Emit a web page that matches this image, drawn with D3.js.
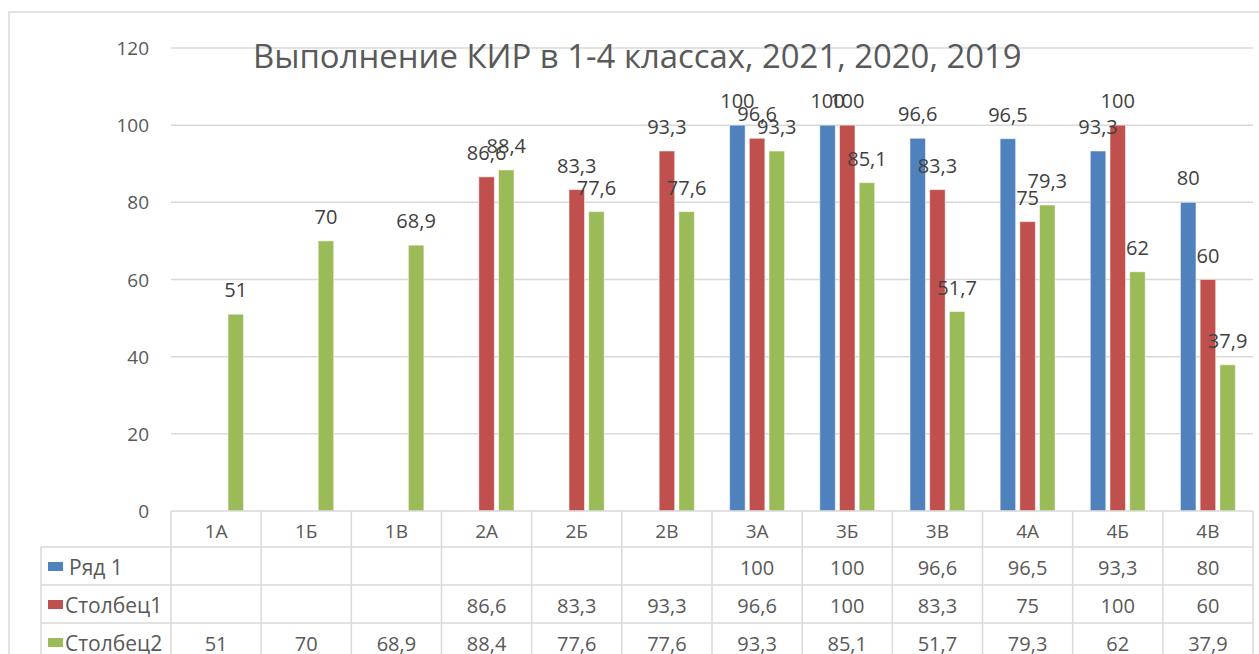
<!DOCTYPE html>
<html>
<head>
<meta charset="utf-8">
<script src="https://cdn.jsdelivr.net/npm/d3@7"></script>
<style>
  body { margin: 0; background: #fff; }
  svg { display: block; font-family: "Open Sans", sans-serif; }
</style>
</head>
<body>
<svg id="chart" width="1259" height="654"></svg>
<script>
var categories = ["1А", "1Б", "1В", "2А", "2Б", "2В", "3А", "3Б", "3В", "4А", "4Б", "4В"];
var seriesNames = ["Ряд 1", "Столбец1", "Столбец2"];
var row1 = [null, null, null, null, null, null, 100, 100, 96.6, 96.5, 93.3, 80];
var col1 = [null, null, null, 86.6, 83.3, 93.3, 96.6, 100, 83.3, 75, 100, 60];
var col2 = [51, 70, 68.9, 88.4, 77.6, 77.6, 93.3, 85.1, 51.7, 79.3, 62, 37.9];
var yTicks = [0, 20, 40, 60, 80, 100, 120];
var title = "Выполнение КИР в 1-4 классах, 2021, 2020, 2019";

var colors = ["#4F81BD", "#C0504D", "#9BBB59"];
var values = [row1, col1, col2];

var svg = d3.select("#chart");
var plotLeft = 171, plotRight = 1253, plotTop = 48, plotBottom = 511;
var rowTops = [511, 547, 585, 623, 661];
var fmt = function(v) { return String(v).replace(".", ","); };

// chart frame
svg.append("rect")
  .attr("x", 9).attr("y", 12)
  .attr("width", 1270).attr("height", 700)
  .attr("fill", "none")
  .attr("stroke", "#D9D9D9")
  .attr("stroke-width", 1.5);

var x0 = d3.scaleBand().domain(categories).range([plotLeft, plotRight]);
var x1 = d3.scaleBand().domain(seriesNames).range([-27.45, 27.45]).paddingInner(0.213);
var y = d3.scaleLinear().domain([0, 120]).range([plotBottom, plotTop]);

// gridlines
svg.append("g").selectAll("line")
  .data(yTicks.filter(function(d) { return d > 0; }))
  .join("line")
  .attr("x1", plotLeft).attr("x2", plotRight)
  .attr("y1", function(d) { return y(d); })
  .attr("y2", function(d) { return y(d); })
  .attr("stroke", "#D9D9D9")
  .attr("stroke-width", 1.5);

// y tick labels
svg.append("g").selectAll("text")
  .data(yTicks)
  .join("text")
  .attr("x", 149)
  .attr("y", function(d) { return y(d) + 7; })
  .attr("text-anchor", "end")
  .attr("font-size", 19)
  .attr("fill", "#595959")
  .text(function(d) { return d; });

// title, fitted to the width it has in the picture
var titleText = svg.append("text")
  .attr("x", 253).attr("y", 68)
  .attr("fill", "#595959")
  .attr("font-size", 30)
  .text(title);
var tw = titleText.node().getComputedTextLength();
titleText.attr("font-size", 30 * 769 / tw);

// bars
var bars = [];
seriesNames.forEach(function(s, si) {
  values[si].forEach(function(v, ci) {
    if (v !== null) bars.push({ s: s, si: si, cat: categories[ci], v: v });
  });
});

svg.append("g").selectAll("rect")
  .data(bars)
  .join("rect")
  .attr("x", function(d) { return x0(d.cat) + x0.bandwidth() / 2 + x1(d.s); })
  .attr("y", function(d) { return y(d.v); })
  .attr("width", x1.bandwidth())
  .attr("height", function(d) { return plotBottom - y(d.v); })
  .attr("fill", function(d) { return colors[d.si]; })
  .attr("stroke", "#fff")
  .attr("stroke-opacity", 0.5)
  .attr("stroke-width", 1);

// data labels
svg.append("g").selectAll("text")
  .data(bars)
  .join("text")
  .attr("x", function(d) { return x0(d.cat) + x0.bandwidth() / 2 + x1(d.s) + x1.bandwidth() / 2; })
  .attr("y", function(d) { return y(d.v) - 17; })
  .attr("text-anchor", "middle")
  .attr("font-size", 20)
  .attr("fill", "#404040")
  .text(function(d) { return fmt(d.v); });

// data table
var grid = svg.append("g")
  .attr("stroke", "#D9D9D9")
  .attr("stroke-width", 1.5);

// header top line and horizontal row lines
grid.append("line")
  .attr("x1", plotLeft).attr("x2", plotRight)
  .attr("y1", rowTops[0]).attr("y2", rowTops[0]);
grid.selectAll("line.row")
  .data(rowTops.slice(1, 4))
  .join("line")
  .attr("class", "row")
  .attr("x1", 41).attr("x2", plotRight)
  .attr("y1", function(d) { return d; })
  .attr("y2", function(d) { return d; });

// vertical column lines
var bounds = categories.map(function(c) { return x0(c); }).concat([plotRight]);
grid.selectAll("line.col")
  .data(bounds)
  .join("line")
  .attr("class", "col")
  .attr("x1", function(d) { return d; }).attr("x2", function(d) { return d; })
  .attr("y1", rowTops[0]).attr("y2", 670);
grid.append("line")
  .attr("x1", 41).attr("x2", 41)
  .attr("y1", rowTops[1]).attr("y2", 670);

// header labels
svg.append("g").selectAll("text")
  .data(categories)
  .join("text")
  .attr("x", function(d) { return x0(d) + x0.bandwidth() / 2; })
  .attr("y", rowTops[0] + 27)
  .attr("text-anchor", "middle")
  .attr("font-size", 19)
  .attr("fill", "#595959")
  .text(function(d) { return d; });

// legend keys, series names and table values
seriesNames.forEach(function(s, si) {
  var rt = rowTops[si + 1];
  svg.append("rect")
    .attr("x", 48).attr("y", rt + 15)
    .attr("width", 15).attr("height", 9)
    .attr("fill", colors[si]);
  svg.append("text")
    .attr("x", si === 0 ? 69 : 65)
    .attr("y", rt + 28)
    .attr("font-size", 21)
    .attr("fill", "#595959")
    .text(s);

  svg.append("g").selectAll("text")
    .data(values[si].map(function(v, ci) { return { v: v, cat: categories[ci] }; })
      .filter(function(d) { return d.v !== null; }))
    .join("text")
    .attr("x", function(d) { return x0(d.cat) + x0.bandwidth() / 2; })
    .attr("y", rt + 28)
    .attr("text-anchor", "middle")
    .attr("font-size", 20)
    .attr("fill", "#595959")
    .text(function(d) { return fmt(d.v); });
});
</script>
</body>
</html>
